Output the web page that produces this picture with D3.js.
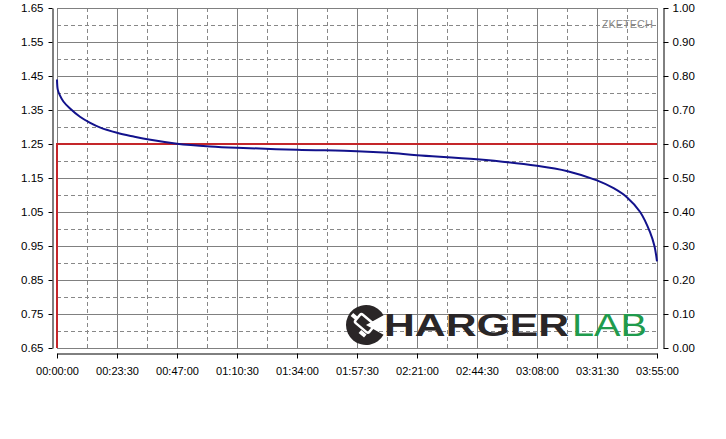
<!DOCTYPE html>
<html>
<head>
<meta charset="utf-8">
<script src="https://cdn.jsdelivr.net/npm/d3@7"></script>
<style>
  body { margin: 0; background: #fff; }
  text { font-family: "Liberation Sans", Arial, sans-serif; }
</style>
</head>
<body>
<div id="vis-container"></div>
<script>
// time in minutes, voltage (left axis, V)
var voltTime = [0, 0.3, 1, 2.5, 5, 9, 13, 17, 23.5, 30, 36, 47, 60, 70.5, 94, 117.5, 130, 141, 164.5, 188, 200, 211.5, 218, 223.3, 228.4, 232.3, 234, 235];
var voltValues = [1.44, 1.41, 1.395, 1.375, 1.355, 1.33, 1.312, 1.298, 1.283, 1.272, 1.263, 1.251, 1.243, 1.239, 1.233, 1.229, 1.224, 1.217, 1.205, 1.186, 1.170, 1.143, 1.120, 1.093, 1.050, 0.99, 0.95, 0.905];
// current (right axis, A)
var currTime = [0, 0, 235];
var currValues = [0, 0.60, 0.60];
var xTickLabels = ["00:00:00","00:23:30","00:47:00","01:10:30","01:34:00","01:57:30","02:21:00","02:44:30","03:08:00","03:31:30","03:55:00"];
var leftTicks = [0.65,0.75,0.85,0.95,1.05,1.15,1.25,1.35,1.45,1.55,1.65];
var rightTicks = [0,0.1,0.2,0.3,0.4,0.5,0.6,0.7,0.8,0.9,1.0];

var W = 726, H = 439;
var pL = 57, pR = 657, pT = 8, pB = 348;

var svg = d3.select("#vis-container").append("svg")
    .attr("width", W).attr("height", H);

var x = d3.scaleLinear().domain([0, 235]).range([pL, pR]);
var yL = d3.scaleLinear().domain([0.65, 1.65]).range([pB, pT]);
var yR = d3.scaleLinear().domain([0, 1]).range([pB, pT]);

var xMajor = xTickLabels.map(function(d, i){ return i * 23.5; });
var xMinor = d3.range(10).map(function(i){ return i * 23.5 + 11.75; });
var yMinor = d3.range(10).map(function(i){ return 0.70 + i * 0.1; });

var grid = svg.append("g");
// dashed minor grid
grid.selectAll(".vmin").data(xMinor).enter().append("line")
    .attr("x1", function(d){ return Math.round(x(d)) + 0.5; })
    .attr("x2", function(d){ return Math.round(x(d)) + 0.5; })
    .attr("y1", pT).attr("y2", pB)
    .attr("stroke", "#888").attr("stroke-dasharray", "4,3");
grid.selectAll(".hmin").data(yMinor).enter().append("line")
    .attr("y1", function(d){ return Math.round(yL(d)) + 0.5; })
    .attr("y2", function(d){ return Math.round(yL(d)) + 0.5; })
    .attr("x1", pL).attr("x2", pR)
    .attr("stroke", "#888").attr("stroke-dasharray", "4,3");
// solid major grid
grid.selectAll(".vmaj").data(xMajor).enter().append("line")
    .attr("x1", function(d){ return Math.round(x(d)) + 0.5; })
    .attr("x2", function(d){ return Math.round(x(d)) + 0.5; })
    .attr("y1", pT).attr("y2", pB)
    .attr("stroke", "#808080");
grid.selectAll(".hmaj").data(leftTicks).enter().append("line")
    .attr("y1", function(d){ return Math.round(yL(d)) + 0.5; })
    .attr("y2", function(d){ return Math.round(yL(d)) + 0.5; })
    .attr("x1", pL).attr("x2", pR)
    .attr("stroke", "#808080");

// watermark
svg.append("text").attr("x", 653).attr("y", 28)
    .attr("text-anchor", "end").attr("font-size", 11)
    .attr("fill", "#8a8a8a").text("ZKETECH");

// logo
var logo = svg.append("g");
var cArc = d3.arc().innerRadius(0).outerRadius(20)
    .startAngle(0.66 * Math.PI).endAngle(2.34 * Math.PI);
logo.append("path").attr("d", cArc()).attr("transform", "translate(366,325)").attr("fill", "#2a2627");
logo.append("rect").attr("x", 356).attr("y", 318).attr("width", 18).attr("height", 11).attr("rx", 2)
    .attr("fill", "none").attr("stroke", "#fff").attr("stroke-width", 2.5)
    .attr("transform", "rotate(40,365,323)");
logo.append("rect").attr("x", 351).attr("y", 315).attr("width", 7).attr("height", 4)
    .attr("fill", "#fff").attr("transform", "rotate(40,355,317)");
logo.append("rect").attr("x", 359).attr("y", 332).attr("width", 7).attr("height", 4)
    .attr("fill", "#fff").attr("transform", "rotate(40,363,334)");
logo.append("text").attr("x", 384).attr("y", 336)
    .attr("font-size", 32).attr("font-weight", "bold").attr("fill", "#2a2627")
    .attr("textLength", 185).attr("lengthAdjust", "spacingAndGlyphs").text("HARGER");
logo.append("text").attr("x", 572).attr("y", 336)
    .attr("font-size", 32).attr("fill", "#1f9b4d")
    .attr("textLength", 75).attr("lengthAdjust", "spacingAndGlyphs").text("LAB");

// frame
svg.append("rect").attr("x", pL + 0.5).attr("y", pT + 0.5)
    .attr("width", pR - pL).attr("height", pB - pT)
    .attr("fill", "none").attr("stroke", "#808080");

// series
var currLine = d3.line()
    .x(function(d, i){ return x(currTime[i]); })
    .y(function(d){ return yR(d); });
svg.append("path").datum(currValues)
    .attr("d", currLine).attr("fill", "none")
    .attr("stroke", "#c4262a").attr("stroke-width", 2);

var voltLine = d3.line()
    .x(function(d, i){ return x(voltTime[i]); })
    .y(function(d){ return yL(d); })
    .curve(d3.curveCatmullRom.alpha(0.5));
svg.append("path").datum(voltValues)
    .attr("d", voltLine).attr("fill", "none")
    .attr("stroke", "#12128c").attr("stroke-width", 2);

// axes
var axL = svg.append("g").attr("transform", "translate(52.5,0)")
    .call(d3.axisLeft(yL).tickValues(leftTicks).tickSize(4).tickSizeOuter(0).tickFormat(d3.format(".2f")));
var axR = svg.append("g").attr("transform", "translate(663.5,0)")
    .call(d3.axisRight(yR).tickValues(rightTicks).tickSize(5).tickSizeOuter(0).tickFormat(d3.format(".2f")));
var axB = svg.append("g").attr("transform", "translate(0,353.5)")
    .call(d3.axisBottom(x).tickValues(xMajor).tickSize(5).tickSizeOuter(0)
        .tickFormat(function(d, i){ return xTickLabels[i]; }));

[axL, axR, axB].forEach(function(a){
    a.selectAll("text").attr("font-family", "Liberation Sans, Arial, sans-serif")
        .attr("font-size", 11.5).attr("fill", "#000");
    a.selectAll("line,path").attr("stroke", "#000");
});
axL.selectAll("text").attr("x", -9);
axR.selectAll("text").attr("x", 9);
axB.selectAll("text").attr("font-size", 11).attr("y", 14);
</script>
</body>
</html>
